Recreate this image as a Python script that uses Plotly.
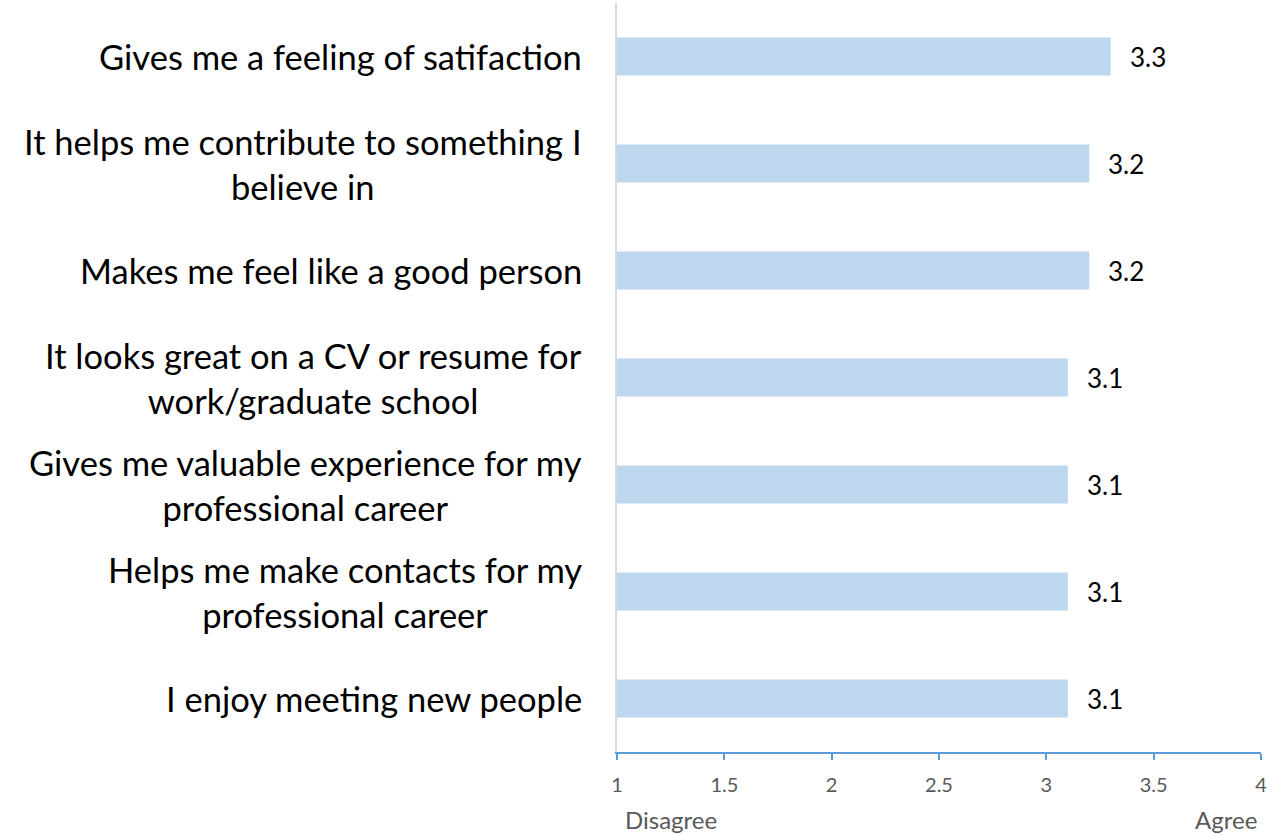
import plotly.graph_objects as go

# Survey items (top to bottom) and mean agreement scores
categories = [
    "Gives me a feeling of satifaction",
    "It helps me contribute to something I<br>believe in",
    "Makes me feel like a good person",
    "It looks great on a CV or resume for<br>work/graduate school",
    "Gives me valuable experience for my<br>professional career",
    "Helps me make contacts for my<br>professional career",
    "I enjoy meeting new people",
]
scores = [3.3, 3.2, 3.2, 3.1, 3.1, 3.1, 3.1]
x_ticks = [1, 1.5, 2, 2.5, 3, 3.5, 4]
x_tick_labels = ["1", "1.5", "2", "2.5", "3", "3.5", "4"]
SCALE_MIN = 1

FONT = "Lato"
BAR_COLOR = "#BDD7EE"
AXIS_BLUE = "#5B9BD5"

fig = go.Figure()
fig.add_trace(go.Bar(
    x=[s - SCALE_MIN for s in scores],
    y=categories,
    base=SCALE_MIN,
    orientation="h",
    marker=dict(color=BAR_COLOR, line=dict(width=0)),
    width=0.355,
    hoverinfo="skip",
))

# category labels: centred multi-line blocks, right edge left of the axis
for cat in categories:
    fig.add_annotation(
        x=0, y=cat, xref="paper", yref="y",
        text=cat, showarrow=False,
        xanchor="right", yanchor="middle", align="center",
        xshift=-33,
        font=dict(family=FONT, size=34.5, color="#000000"),
    )

# value labels just past the end of each bar
for cat, s in zip(categories, scores):
    fig.add_annotation(
        x=s, y=cat, xref="x", yref="y",
        text=f"{s:.1f}", showarrow=False,
        xanchor="left", xshift=17,
        font=dict(family=FONT, size=26, color="#000000"),
    )

# scale end labels
fig.add_annotation(x=1, y=0, xref="x", yref="paper", text="Disagree",
                   showarrow=False, xanchor="left", yanchor="middle",
                   xshift=6, yshift=-67,
                   font=dict(family=FONT, size=24, color="#595959"))
fig.add_annotation(x=4, y=0, xref="x", yref="paper", text="Agree",
                   showarrow=False, xanchor="right", yanchor="middle",
                   xshift=-2, yshift=-67,
                   font=dict(family=FONT, size=24, color="#595959"))

fig.update_layout(
    width=1286, height=835,
    margin=dict(l=617, r=25, t=3, b=83),
    paper_bgcolor="white", plot_bgcolor="white",
    showlegend=False,
    xaxis=dict(
        range=[1, 4], tickmode="array", tickvals=x_ticks, ticktext=x_tick_labels,
        showgrid=False, zeroline=False,
        showline=True, linecolor=AXIS_BLUE, linewidth=1.5,
        ticks="outside", ticklen=6, tickcolor=AXIS_BLUE, tickwidth=1.5,
        tickfont=dict(family=FONT, size=20, color="#595959"),
        ticklabelstandoff=8,
    ),
    yaxis=dict(
        autorange="reversed",
        showgrid=False, zeroline=False,
        showline=True, linecolor="#D9D9D9", linewidth=1.5,
        ticks="", showticklabels=False,
    ),
)

fig.write_html("out.html")
